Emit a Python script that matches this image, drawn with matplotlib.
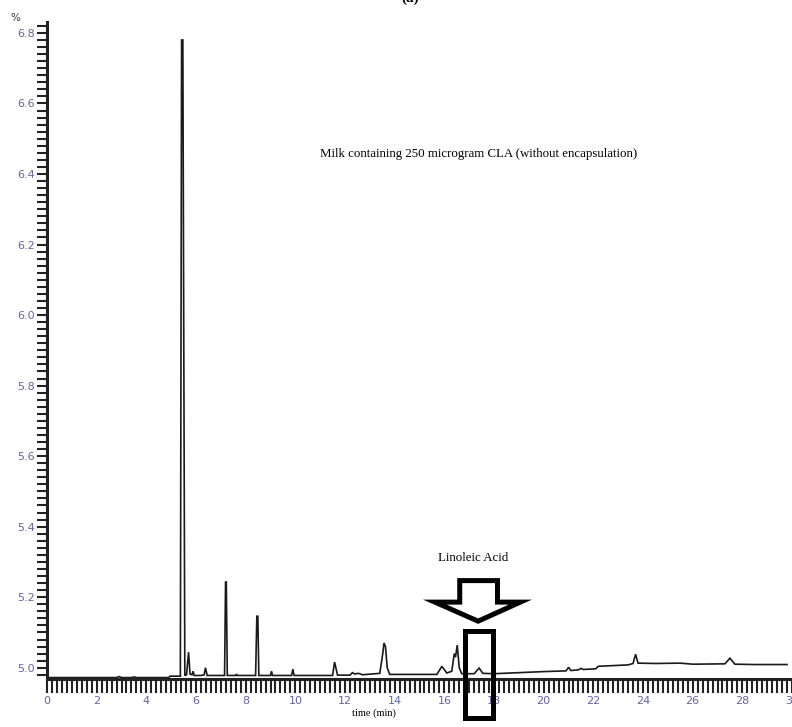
import matplotlib.pyplot as plt
from matplotlib.patches import Polygon, Rectangle
from matplotlib.ticker import MultipleLocator, FormatStrFormatter

# chromatogram trace: retention time (min) and detector response (%)
time_min = [0.0, 2.8, 2.9, 3.0, 3.4, 3.5, 3.6, 4.9, 4.95,
            5.37, 5.42, 5.47, 5.55,
            5.62, 5.70, 5.76, 5.84, 5.88, 5.93, 6.20, 6.33, 6.38, 6.45,
            7.15, 7.19, 7.22, 7.26, 7.60, 7.63, 7.66,
            8.40, 8.45, 8.49, 8.53, 9.00, 9.04, 9.08,
            9.85, 9.90, 9.95, 11.50, 11.58, 11.70,
            12.20, 12.30, 12.40, 12.50, 12.60, 12.70, 13.40, 13.52, 13.57, 13.63, 13.70, 13.80,
            15.70, 15.90, 16.10, 16.30, 16.40, 16.45, 16.52, 16.60, 16.70,
            17.20, 17.40, 17.55, 18.00, 19.00, 20.00, 20.90, 21.00, 21.10, 21.40, 21.50, 21.60,
            22.10, 22.20, 23.40, 23.60, 23.70, 23.80, 24.50, 25.50, 26.00, 27.30, 27.50, 27.70,
            28.50, 29.80]
signal = [4.972, 4.972, 4.975, 4.972, 4.972, 4.974, 4.972, 4.972, 4.976,
          4.976, 6.780, 6.780, 4.978,
          4.980, 5.044, 4.982, 4.980, 4.990, 4.978, 4.978, 4.980, 5.000, 4.978,
          4.978, 5.243, 5.243, 4.978, 4.978, 4.982, 4.978,
          4.978, 5.146, 5.146, 4.978, 4.978, 4.990, 4.978,
          4.978, 4.996, 4.978, 4.978, 5.016, 4.979,
          4.979, 4.986, 4.982, 4.984, 4.983, 4.980, 4.984, 5.040, 5.070, 5.060, 5.000, 4.981,
          4.981, 5.004, 4.985, 4.990, 5.040, 5.030, 5.064, 5.000, 4.983,
          4.983, 4.999, 4.984, 4.983, 4.986, 4.989, 4.991, 5.001, 4.992, 4.994, 4.998, 4.995,
          4.997, 5.004, 5.008, 5.012, 5.038, 5.013, 5.012, 5.013, 5.010, 5.011, 5.027, 5.010,
          5.009, 5.009]

x_ticks = [0, 2, 4, 6, 8, 10, 12, 14, 16, 18, 20, 22, 24, 26, 28, 30]
y_ticks = [5.0, 5.2, 5.4, 5.6, 5.8, 6.0, 6.2, 6.4, 6.6, 6.8]

fig = plt.figure(figsize=(7.92, 7.27), dpi=100)
ax = fig.add_axes([47 / 792, (727 - 679) / 727, 1 - 47 / 792, (679 - 22) / 727])

ax.plot(time_min, signal, color='#1a1a1a', lw=1.2, solid_joinstyle='miter')

ax.set_xlim(0, 29.8)
ax.set_ylim(4.968, 6.831)

for s in ['top', 'right']:
    ax.spines[s].set_visible(False)
for s in ['left', 'bottom']:
    ax.spines[s].set_linewidth(2.2)
    ax.spines[s].set_color('#222222')

ax.set_xticks(x_ticks)
ax.set_yticks(y_ticks)
ax.xaxis.set_minor_locator(MultipleLocator(0.2))
ax.yaxis.set_minor_locator(MultipleLocator(0.02))
ax.yaxis.set_major_formatter(FormatStrFormatter('%.1f'))
ax.tick_params(axis='both', which='both', direction='out', width=1.5, color='#222222')
ax.tick_params(axis='both', which='major', labelcolor='#6464a4', labelsize=8)
ax.tick_params(axis='x', which='both', length=10)
ax.tick_params(axis='y', which='both', length=7.5)
ax.tick_params(axis='x', which='major', pad=2)
ax.tick_params(axis='y', which='major', pad=1.5)

serif = 'Liberation Serif'
fig.text(15 / 792, 1 - 18 / 727, '%', fontsize=7.5, color='#333333', ha='center', va='center')
fig.text(410 / 792, 1.003, '(a)', fontsize=11, fontweight='bold', family=serif,
         ha='center', va='center')
ax.text(17.4, 6.458, 'Milk containing 250 microgram CLA (without encapsulation)',
        fontsize=9.3, family=serif, ha='center', va='center')
ax.text(17.16, 5.31, 'Linoleic Acid', fontsize=9.3, family=serif, ha='center', va='center')
fig.text(374 / 792, 1 - 713 / 727, 'time (min)', fontsize=7.5, family=serif,
         ha='center', va='center')

# hollow arrow pointing at the linoleic acid peak
arrow_pts = [(16.62, 5.247), (18.14, 5.247), (18.14, 5.186), (19.06, 5.186),
             (17.36, 5.132), (15.62, 5.186), (16.62, 5.186)]
ax.add_patch(Polygon(arrow_pts, closed=True, fill=False, edgecolor='black',
                     lw=3.6, joinstyle='miter', clip_on=False))
ax.add_patch(Rectangle((16.82, 4.858), 1.12, 0.247, fill=False, edgecolor='black',
                       lw=3.6, joinstyle='miter', clip_on=False, zorder=5))

fig.savefig('out.png', dpi=100)
